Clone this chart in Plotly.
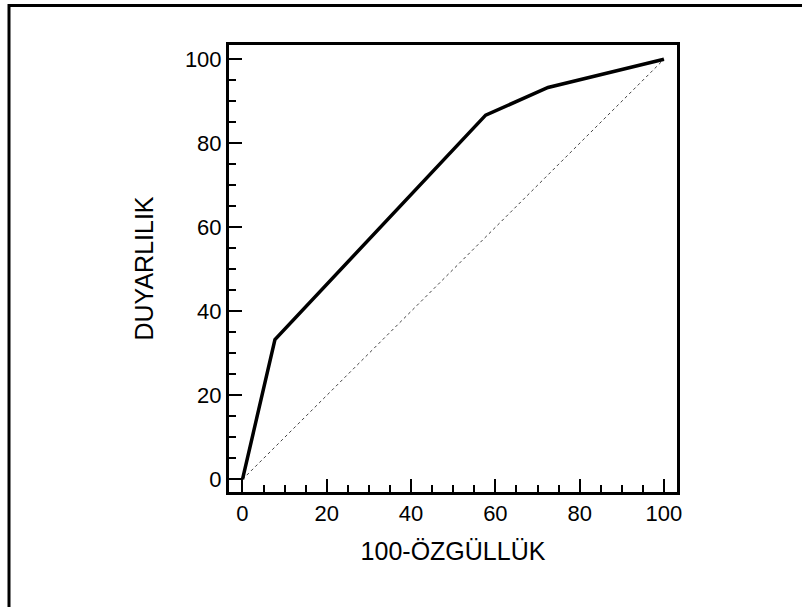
import plotly.graph_objects as go

# ROC curve data
fpr = [0, 7.7, 57.7, 72.5, 100]          # 100-ÖZGÜLLÜK
tpr = [0, 33.3, 86.7, 93.3, 100]         # DUYARLILIK
diag_x = [0, 100]
diag_y = [0, 100]

W, H = 802, 607
L, R, T, B = 229, 125, 45, 115
pw, ph = W - L - R, H - T - B

fig = go.Figure()
fig.add_trace(go.Scatter(x=diag_x, y=diag_y, mode="lines",
                         line=dict(color="#444444", width=1, dash="dot"),
                         hoverinfo="skip", showlegend=False))
fig.add_trace(go.Scatter(x=fpr, y=tpr, mode="lines",
                         line=dict(color="black", width=3.5),
                         showlegend=False))

tick_font = dict(family="Liberation Sans, Arial, sans-serif", size=22, color="black")
title_font = dict(family="Liberation Sans, Arial, sans-serif", size=25, color="black")

axis_common = dict(
    showgrid=False, zeroline=False,
    showline=True, linecolor="black", linewidth=3, mirror=True,
    ticks="inside", ticklen=13, tickwidth=2, tickcolor="black",
    dtick=20, tick0=0,
    minor=dict(ticks="inside", ticklen=7, tickwidth=2, tickcolor="black", dtick=5, tick0=0, showgrid=False),
    tickfont=tick_font,
)

fig.update_xaxes(range=[-3.2, 103.1], title=dict(text="100-ÖZGÜLLÜK", font=title_font, standoff=18), **axis_common)
fig.update_yaxes(range=[-3.0, 103.4], title=dict(text="DUYARLILIK", font=title_font, standoff=25), **axis_common)

# Outer frame (left and top edges visible)
fig.add_shape(type="rect", xref="paper", yref="paper",
              x0=(9 - L) / pw, x1=1.6, y0=-0.6, y1=(H - B - 5.5) / ph,
              line=dict(color="black", width=3), fillcolor="rgba(0,0,0,0)", layer="above")

fig.update_layout(
    width=W, height=H,
    margin=dict(l=L, r=R, t=T, b=B),
    paper_bgcolor="white", plot_bgcolor="white",
    font=tick_font,
)

fig.write_html("out.html", config={"displayModeBar": False},
               post_script="document.body.style.margin='0';")
